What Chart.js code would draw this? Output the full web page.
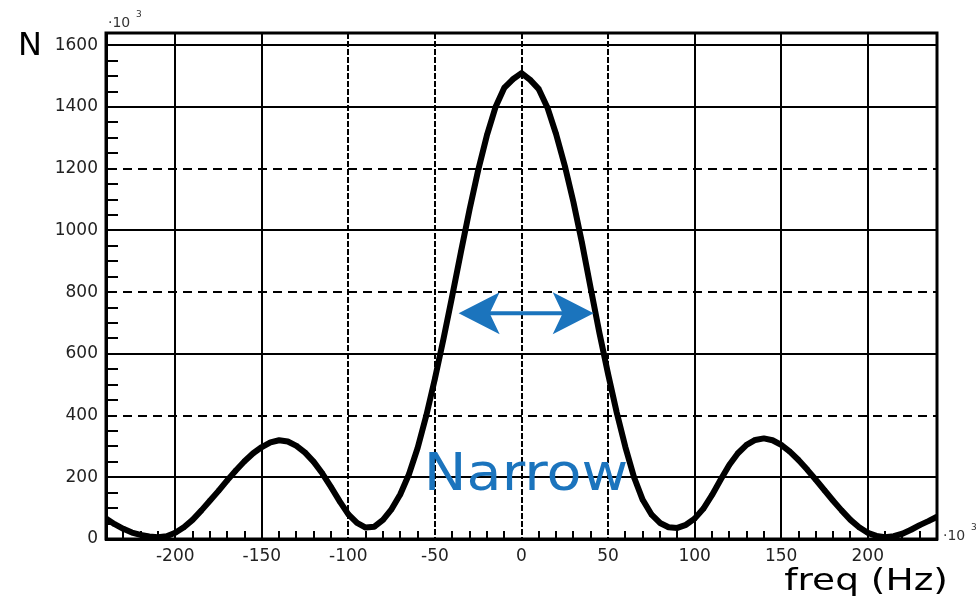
<!DOCTYPE html>
<html>
<head>
<meta charset="utf-8">
<script src="https://cdn.jsdelivr.net/npm/chart.js@4.4.1/dist/chart.umd.min.js"></script>
<style>
  html, body { margin: 0; padding: 0; background: #fff; }
  canvas { display: block; }
</style>
</head>
<body>
<canvas id="freqChart" width="979" height="607"></canvas>
<script>
// spectrum, 5 Hz bins
const freq = [
  -240, -235, -230, -225, -220, -215, -210, -205, -200, -195, -190, -185, -180, -175, -170, -165,
  -160, -155, -150, -145, -140, -135, -130, -125, -120, -115, -110, -105, -100, -95, -90, -85,
  -80, -75, -70, -65, -60, -55, -50, -45, -40, -35, -30, -25, -20, -15, -10, -5,
  0, 5, 10, 15, 20, 25, 30, 35, 40, 45, 50, 55, 60, 65, 70, 75,
  80, 85, 90, 95, 100, 105, 110, 115, 120, 125, 130, 135, 140, 145, 150, 155,
  160, 165, 170, 175, 180, 185, 190, 195, 200, 205, 210, 215, 220, 225, 230, 235, 240
];
const counts = [
  66, 48, 33, 21, 13, 8, 6, 9, 20, 38, 62, 92, 124, 156, 190, 222,
  252, 278, 298, 313, 320, 316, 302, 280, 250, 212, 168, 122, 80, 52, 37, 40,
  62, 97, 145, 210, 295, 400, 520, 650, 788, 930, 1068, 1196, 1308, 1400, 1462, 1490,
  1510, 1488, 1458, 1398, 1312, 1210, 1092, 958, 812, 668, 535, 410, 298, 200, 127, 80,
  52, 38, 36, 46, 66, 98, 142, 192, 240, 278, 305, 321, 326, 320, 305, 283,
  256, 225, 192, 158, 124, 92, 62, 38, 20, 10, 6, 9, 17, 30, 45, 58, 72
];
const xTicks = [-200, -150, -100, -50, 0, 50, 100, 150, 200];
const yTicks = [0, 200, 400, 600, 800, 1000, 1200, 1400, 1600];

const BLUE = '#1b74bd';

// minor ticks, frame, arrow and the text around the plot
const decorations = {
  id: 'decorations',
  beforeDatasetsDraw(chart) {
    const { ctx, chartArea: a, scales: { x, y } } = chart;
    ctx.save();
    ctx.strokeStyle = '#000';
    ctx.lineWidth = 2;
    ctx.beginPath();
    for (let v = 50; v < 1640; v += 50) {
      if (v % 200 === 0) continue;
      const py = Math.round(y.getPixelForValue(v));
      ctx.moveTo(a.left, py);
      ctx.lineTo(a.left + 12, py);
    }
    for (let v = -230; v < 240; v += 10) {
      if (v % 50 === 0) continue;
      const px = Math.round(x.getPixelForValue(v));
      ctx.moveTo(px, a.bottom);
      ctx.lineTo(px, a.bottom - 8);
    }
    ctx.stroke();
    ctx.lineWidth = 3;
    ctx.strokeRect(a.left, a.top, a.right - a.left, a.bottom - a.top);
    ctx.restore();
  },
  afterDatasetsDraw(chart) {
    const { ctx, chartArea: a, scales: { x, y } } = chart;
    ctx.save();

    // double arrow
    const ay = y.getPixelForValue(732);
    const x1 = x.getPixelForValue(-36.3);
    const x2 = x.getPixelForValue(41.7);
    ctx.strokeStyle = BLUE;
    ctx.fillStyle = BLUE;
    ctx.lineWidth = 4;
    ctx.beginPath();
    ctx.moveTo(x1 + 20, ay);
    ctx.lineTo(x2 - 20, ay);
    ctx.stroke();
    [[x1, 1], [x2, -1]].forEach(([tip, d]) => {
      ctx.beginPath();
      ctx.moveTo(tip, ay);
      ctx.lineTo(tip + d * 41, ay - 21);
      ctx.lineTo(tip + d * 31, ay);
      ctx.lineTo(tip + d * 41, ay + 21);
      ctx.closePath();
      ctx.fill();
    });

    // label under the arrow
    ctx.font = '52px "DejaVu Sans"';
    ctx.textAlign = 'center';
    ctx.textBaseline = 'alphabetic';
    ctx.translate(x.getPixelForValue(2.6), y.getPixelForValue(159));
    ctx.scale(1.1, 1);
    ctx.fillText('Narrow', 0, 0);
    ctx.restore();

    ctx.save();
    ctx.fillStyle = '#000';
    ctx.textBaseline = 'alphabetic';
    ctx.font = '32px "DejaVu Sans"';
    ctx.textAlign = 'left';
    ctx.fillText('N', a.left - 88, a.top + 22);

    ctx.save();
    ctx.font = '30px "DejaVu Sans"';
    ctx.textAlign = 'right';
    ctx.translate(a.right + 11, a.bottom + 51);
    ctx.scale(1.25, 1);
    ctx.fillText('freq (Hz)', 0, 0);
    ctx.restore();

    // axis multipliers
    ctx.fillStyle = '#333';
    ctx.textAlign = 'left';
    ctx.font = '14px "DejaVu Sans"';
    ctx.fillText('\u00b710', a.left + 2, a.top - 6);
    ctx.fillText('\u00b710', a.right + 6, a.bottom + 1);
    ctx.font = '9px "DejaVu Sans"';
    ctx.fillText('3', a.left + 30, a.top - 16);
    ctx.fillText('3', a.right + 34, a.bottom - 9);
    ctx.restore();
  }
};

const tickFont = { family: '"DejaVu Sans"', size: 17 };

new Chart(document.getElementById('freqChart').getContext('2d'), {
  type: 'line',
  data: {
    datasets: [{
      data: freq.map((f, i) => ({ x: f, y: counts[i] })),
      borderColor: '#000',
      backgroundColor: '#000',
      borderWidth: 6,
      borderJoinStyle: 'round',
      tension: 0,
      pointStyle: 'rect',
      pointRadius: 3,
      pointBorderWidth: 0,
      fill: false
    }]
  },
  options: {
    responsive: false,
    animation: false,
    layout: { padding: { top: 33, right: 42, left: 0, bottom: 0 } },
    plugins: { legend: { display: false }, tooltip: { enabled: false } },
    scales: {
      x: {
        type: 'linear',
        min: -240,
        max: 240,
        afterBuildTicks: s => { s.ticks = xTicks.map(v => ({ value: v })); },
        afterFit: s => { s.height = 68; },
        ticks: { color: '#222', font: tickFont, padding: 7, maxRotation: 0, callback: v => String(v) },
        grid: { color: '#000', lineWidth: 2, drawTicks: false },
        border: {
          display: true, color: '#000', width: 3,
          dash: c => (c.tick && c.tick.value >= -100 && c.tick.value <= 50) ? [6, 2] : []
        }
      },
      y: {
        min: 0,
        max: 1640,
        afterBuildTicks: s => { s.ticks = yTicks.map(v => ({ value: v })); },
        afterFit: s => { s.width = 106; },
        ticks: { color: '#222', font: tickFont, padding: 8, callback: v => String(v) },
        grid: { color: '#000', lineWidth: 2, drawTicks: false },
        border: {
          display: true, color: '#000', width: 3,
          dash: c => (c.tick && c.tick.value % 400 === 0 && c.tick.value > 0 && c.tick.value < 1600) ? [9, 6] : []
        }
      }
    }
  },
  plugins: [decorations]
});
</script>
</body>
</html>
